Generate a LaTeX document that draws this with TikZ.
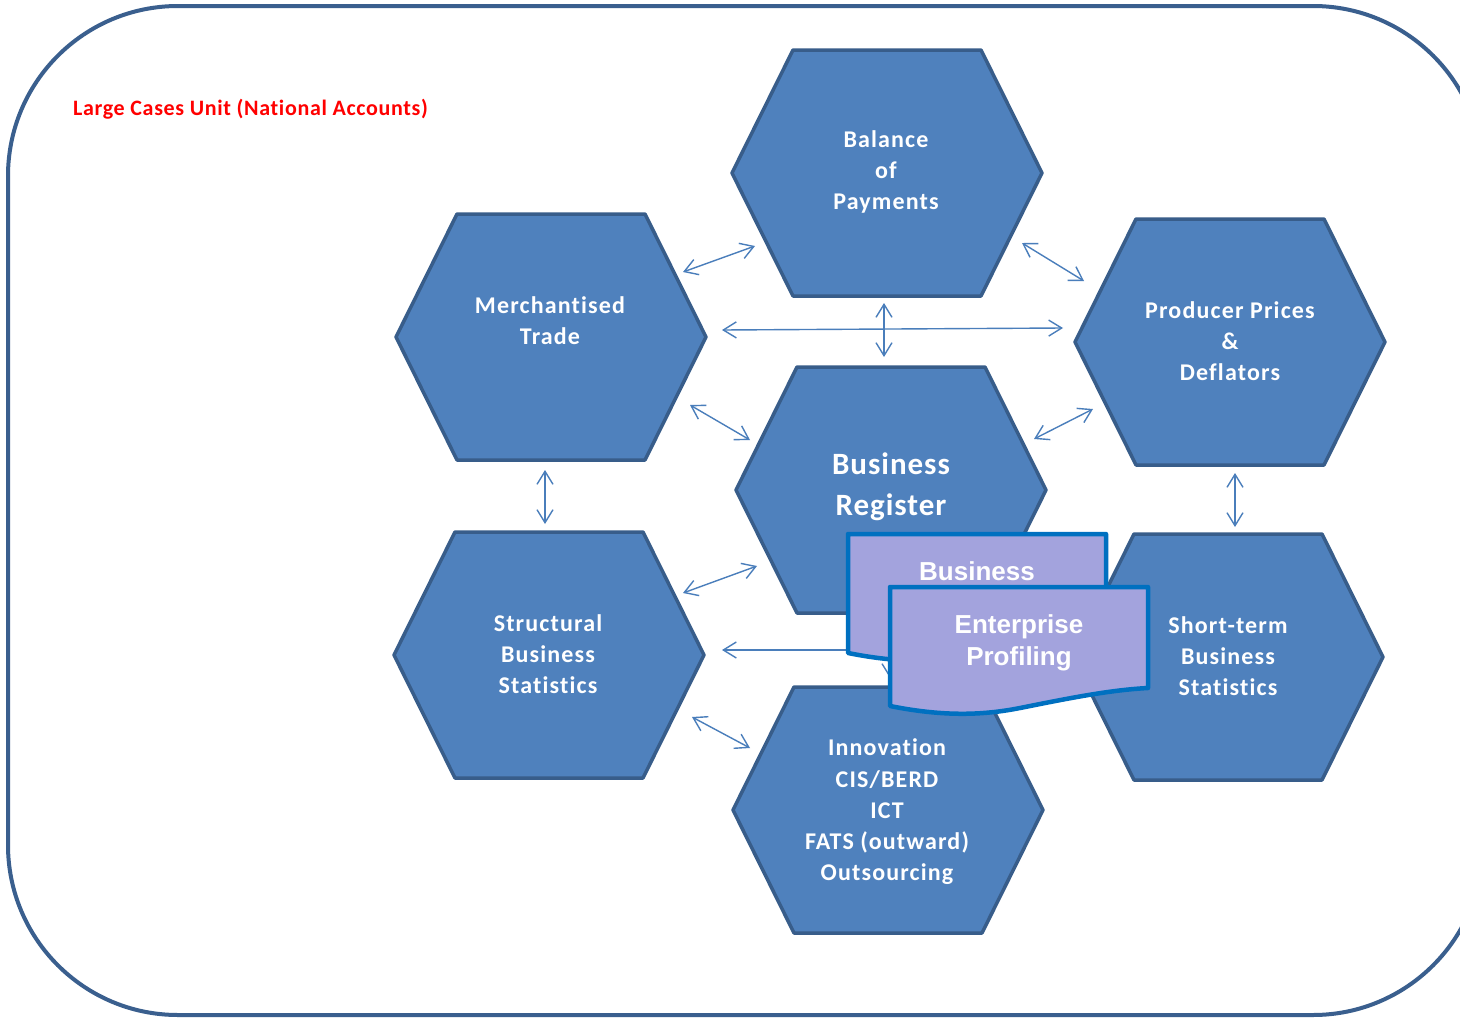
\documentclass[tikz,border=0pt]{standalone}
\usepackage{fontspec}
\setmainfont{Carlito}
\newfontfamily\docfont{Liberation Sans}
\newfontfamily\hexfont[LetterSpace=4.8,Ligatures=NoCommon]{Carlito}
\newfontfamily\bigfont[LetterSpace=3.2,Ligatures=NoCommon]{Carlito}
\newfontfamily\labfont[LetterSpace=3,Ligatures=NoCommon]{Carlito}
\usetikzlibrary{arrows.meta,calc}
\definecolor{hexfill}{HTML}{4F81BD}
\definecolor{hexline}{HTML}{385D8A}
\definecolor{arrowc}{HTML}{4A7EBB}
\definecolor{docfill}{HTML}{A3A3DD}
\definecolor{docline}{HTML}{0070C0}
\definecolor{framec}{HTML}{3A5F8E}
\definecolor{labelred}{HTML}{FF0000}
\tikzset{
  hexshape/.style={fill=hexfill,draw=hexline,line width=3.5pt,line join=round},
  hexpic/.pic={\path[hexshape] (-155,0) -- (-94,-123) -- (94,-123) -- (155,0) -- (94,123) -- (-94,123) -- cycle;},
  hextext/.style={text=white,font=\hexfont\fontsize{24}{31.2}\selectfont\bfseries,align=center,inner sep=0pt},
  bigtext/.style={text=white,font=\bigfont\fontsize{31}{41}\selectfont\bfseries,align=center,inner sep=0pt},
  doctext/.style={text=white,font=\docfont\fontsize{26}{32}\selectfont\bfseries,align=center,inner sep=0pt},
  docshape/.style={fill=docfill,draw=docline,line width=4.5pt,line join=round},
  link/.style={draw=arrowc,line width=1.4pt,>={Straight Barb[length=13pt,width=16pt]},<->},
  framebox/.style={draw=framec,line width=4pt,rounded corners=170pt},
  unitlabel/.style={text=labelred,font=\labfont\fontsize{22}{26}\selectfont\bfseries,anchor=west,inner sep=0pt}
}
\begin{document}
\begin{tikzpicture}[x=1pt,y=-1pt]
\useasboundingbox (0,0) rectangle (1460,1020);
\clip (0,0) rectangle (1460,1020);
\fill[white] (0,0) rectangle (1460,1020);
\draw[framebox] (8,6) rectangle (1483,1015);
\node[unitlabel] (unit) at (73,109) {Large Cases Unit (National Accounts)};

% hexagon centres
\coordinate (bop) at (887,173);
\coordinate (merch) at (551,337);
\coordinate (ppd) at (1230,342);
\coordinate (br) at (891,490);
\coordinate (sbs) at (549,655);
\coordinate (sts) at (1228,657);
\coordinate (inno) at (888,810);

\pic at (bop) {hexpic};
\pic at (merch) {hexpic};
\pic at (ppd) {hexpic};
\pic at (br) {hexpic};
\pic at (sbs) {hexpic};
\pic at (sts) {hexpic};
\pic at (inno) {hexpic};

\node[hextext] (bopT) at (886,172) {Balance\\of\\Payments};
\node[hextext] (merchT) at (550,321) {Merchantised\\Trade};
\node[hextext] (ppdT) at (1230,341) {Producer Prices\\\&\\Deflators};
\node[bigtext] (brT) at (891,487) {Business\\Register};
\node[hextext] (sbsT) at (548,654) {Structural\\Business\\Statistics};
\node[hextext] (stsT) at (1228,656) {Short-term\\Business\\Statistics};
\node[hextext] (innoT) at (887,812) {Innovation\\CIS/BERD\\ICT\\FATS (outward)\\Outsourcing};

% connector end points
\coordinate (mb1) at (683,272); \coordinate (mb2) at (755,246);
\coordinate (bp1) at (1022,243); \coordinate (bp2) at (1084,281);
\coordinate (mp1) at (722,330); \coordinate (mp2) at (1063,328);
\coordinate (bb1) at (884,303); \coordinate (bb2) at (884,357);
\coordinate (mr1) at (690,405); \coordinate (mr2) at (750,440);
\coordinate (rp1) at (1034,439); \coordinate (rp2) at (1093,409);
\coordinate (ms1) at (545,470); \coordinate (ms2) at (545,524);
\coordinate (ps1) at (1235,473); \coordinate (ps2) at (1235,527);
\coordinate (sr1) at (683,593); \coordinate (sr2) at (757,566);
\coordinate (ss1) at (722,650); \coordinate (ss2) at (1063,650);
\coordinate (ri1) at (890,622); \coordinate (ri2) at (890,678);
\coordinate (si1) at (692,717); \coordinate (si2) at (750,748);

\draw[link] (mb1) -- (mb2);
\draw[link] (bp1) -- (bp2);
\draw[link] (mp1) -- (mp2);
\draw[link] (bb1) -- (bb2);
\draw[link] (mr1) -- (mr2);
\draw[link] (rp1) -- (rp2);
\draw[link] (ms1) -- (ms2);
\draw[link] (ps1) -- (ps2);
\draw[link] (sr1) -- (sr2);
\draw[link] (ss1) -- (ss2);
\draw[link] (ri1) -- (ri2);
\draw[link] (si1) -- (si2);

% documents
\path[docshape] (848,534) -- (1106,534) -- (1106,635)
  .. controls (1068,637) and (1028,645) .. (978,655)
  .. controls (938,663) and (898,663) .. (848,653) -- cycle;
\node[doctext] (busT) at (977,571) {Business};
\path[docshape] (890,587) -- (1148,587) -- (1148,688)
  .. controls (1110,690) and (1070,698) .. (1020,708)
  .. controls (980,716) and (940,716) .. (890,706) -- cycle;
\node[doctext] (epT) at (1019,643) {Enterprise\\Profiling};
\end{tikzpicture}
\end{document}
